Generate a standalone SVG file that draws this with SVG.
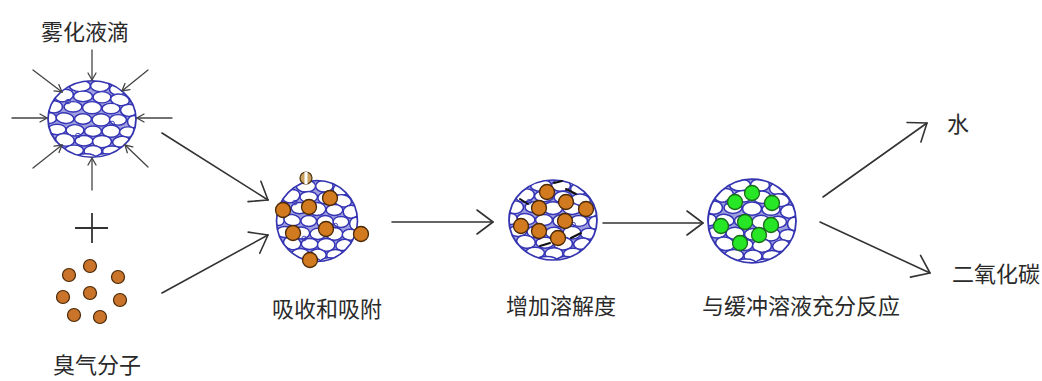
<svg xmlns="http://www.w3.org/2000/svg" xmlns:xlink="http://www.w3.org/1999/xlink" width="1042" height="381" viewBox="0 0 1042 381">
  <style>
    .lbl { font-family: "Noto Sans CJK SC", "Noto Sans", sans-serif; font-size: 22px; fill: #2a2a2a; text-anchor: middle; }
    .conn { fill: none; stroke: #333; stroke-width: 1.6; stroke-linecap: round; }
    .thin { fill: none; stroke: #444; stroke-width: 1.3; stroke-linecap: round; }
    .rim { fill: none; stroke: #3434b0; stroke-width: 1.8; }
    .cell { fill: #fff; stroke: #3535b5; stroke-width: 1.6; }
    .orange { fill: #d27a20; stroke: #4a2806; stroke-width: 1.3; }
    .green { fill: #26e626; stroke: #1b6a1b; stroke-width: 1.3; }
    .ozone { fill: #c9742a; stroke: #4a2806; stroke-width: 1.2; }
    .tad { fill: none; stroke: #111; stroke-width: 2; stroke-linecap: round; }
  </style>
  <defs>
    <marker id="head" markerUnits="userSpaceOnUse" markerWidth="40" markerHeight="40" refX="0" refY="0" viewBox="-20 -20 40 40" orient="auto">
      <path d="M-16,-12 L0,0 L-16,12" fill="none" stroke="#333" stroke-width="1.6" stroke-linecap="round" stroke-linejoin="round"/>
    </marker>
    <marker id="headS" markerUnits="userSpaceOnUse" markerWidth="20" markerHeight="20" refX="0" refY="0" viewBox="-10 -10 20 20" orient="auto">
      <path d="M-7,-4 L0,0 L-7,4" fill="none" stroke="#444" stroke-width="1.3" stroke-linecap="round"/>
    </marker>
    <clipPath id="unit">
      <circle cx="0" cy="0" r="44"/>
    </clipPath>
    <!-- foam texture of blue-edged cells, radius 44 around the origin -->
    <g id="foam">
      <rect x="-46" y="-46" width="92" height="92" fill="#a0a0e0"/>
      <ellipse class="cell" cx="-12" cy="-38" rx="10.5" ry="6.5"/>
      <ellipse class="cell" cx="8" cy="-38" rx="9.5" ry="6.5"/>
      <ellipse class="cell" cx="26" cy="-34" rx="8.5" ry="6.5"/>
      <ellipse class="cell" cx="-28" cy="-27" rx="9.5" ry="7" transform="rotate(-15 -28 -27)"/>
      <ellipse class="cell" cx="-9" cy="-26" rx="9.5" ry="6"/>
      <ellipse class="cell" cx="10" cy="-25" rx="9" ry="6.5"/>
      <ellipse class="cell" cx="28" cy="-22" rx="9.5" ry="6.5" transform="rotate(12 28 -22)"/>
      <ellipse class="cell" cx="-38" cy="-14" rx="8.5" ry="7"/>
      <ellipse class="cell" cx="-19" cy="-14" rx="9" ry="6"/>
      <ellipse class="cell" cx="0" cy="-13" rx="9.5" ry="7"/>
      <ellipse class="cell" cx="19" cy="-12" rx="9" ry="6"/>
      <ellipse class="cell" cx="37" cy="-10" rx="8.5" ry="7"/>
      <ellipse class="cell" cx="-42" cy="-1" rx="6.5" ry="6"/>
      <ellipse class="cell" cx="-27" cy="-1" rx="9" ry="6" transform="rotate(10 -27 -1)"/>
      <ellipse class="cell" cx="-9" cy="0" rx="8.5" ry="6"/>
      <ellipse class="cell" cx="9" cy="1" rx="9" ry="7"/>
      <ellipse class="cell" cx="26" cy="1" rx="8.5" ry="6"/>
      <ellipse class="cell" cx="42" cy="3" rx="6.5" ry="7"/>
      <ellipse class="cell" cx="-35" cy="12" rx="9" ry="6"/>
      <ellipse class="cell" cx="-17" cy="13" rx="9" ry="6.5"/>
      <ellipse class="cell" cx="1" cy="14" rx="8.5" ry="6"/>
      <ellipse class="cell" cx="19" cy="14" rx="9" ry="7"/>
      <ellipse class="cell" cx="36" cy="15" rx="8.5" ry="6"/>
      <ellipse class="cell" cx="-27" cy="24" rx="9.5" ry="7" transform="rotate(12 -27 24)"/>
      <ellipse class="cell" cx="-8" cy="25" rx="9" ry="6"/>
      <ellipse class="cell" cx="10" cy="26" rx="9.5" ry="7"/>
      <ellipse class="cell" cx="29" cy="26" rx="8.5" ry="6" transform="rotate(-12 29 26)"/>
      <ellipse class="cell" cx="-18" cy="36" rx="9.5" ry="6"/>
      <ellipse class="cell" cx="1" cy="37" rx="9" ry="6.5"/>
      <ellipse class="cell" cx="20" cy="37" rx="9.5" ry="6"/>
      <ellipse class="cell" cx="-6" cy="45" rx="10.5" ry="5"/>
      <ellipse class="cell" cx="13" cy="45" rx="9.5" ry="5"/>
      <circle cx="-24" cy="-20" r="2.5" fill="none" stroke="#3535b5" stroke-width="1"/>
      <circle cx="20" cy="5" r="2.5" fill="none" stroke="#3535b5" stroke-width="1"/>
      <circle cx="-14" cy="19" r="2.5" fill="none" stroke="#3535b5" stroke-width="1"/>
    </g>
  </defs>

  <rect width="1042" height="381" fill="#fff"/>

  <!-- atomized droplet -->
  <g id="droplet">
    <g transform="translate(92,119) scale(1,0.87)">
      <g clip-path="url(#unit)"><use xlink:href="#foam"/></g>
      <circle class="rim" cx="0" cy="0" r="44"/>
    </g>
    <g id="droplet-arrows">
      <line class="thin" x1="92" y1="50" x2="92" y2="80" marker-end="url(#headS)"/>
      <line class="thin" x1="92" y1="190" x2="92" y2="158" marker-end="url(#headS)"/>
      <line class="thin" x1="12" y1="118" x2="47" y2="118" marker-end="url(#headS)"/>
      <line class="thin" x1="172" y1="118" x2="137" y2="118" marker-end="url(#headS)"/>
      <line class="thin" x1="33" y1="70" x2="62" y2="92" marker-end="url(#headS)"/>
      <line class="thin" x1="148" y1="70" x2="122" y2="91" marker-end="url(#headS)"/>
      <line class="thin" x1="33" y1="168" x2="62" y2="145" marker-end="url(#headS)"/>
      <line class="thin" x1="148" y1="167" x2="125" y2="145" marker-end="url(#headS)"/>
    </g>
    <text class="lbl" x="85" y="40">雾化液滴</text>
  </g>

  <!-- plus sign -->
  <g id="plus">
    <path d="M75,228 H108 M92,213 V243" fill="none" stroke="#333" stroke-width="1.8"/>
  </g>

  <!-- ozone molecules -->
  <g id="ozone">
    <circle class="ozone" cx="90" cy="266" r="6.5"/>
    <circle class="ozone" cx="69" cy="275" r="6.5"/>
    <circle class="ozone" cx="118" cy="277" r="6.5"/>
    <circle class="ozone" cx="63" cy="297" r="6.5"/>
    <circle class="ozone" cx="90" cy="293" r="6.5"/>
    <circle class="ozone" cx="120" cy="300" r="6.5"/>
    <circle class="ozone" cx="74" cy="315" r="6.5"/>
    <circle class="ozone" cx="100" cy="317" r="6.5"/>
    <text class="lbl" x="97" y="373">臭气分子</text>
  </g>

  <!-- absorption and adsorption -->
  <g id="absorb">
    <g transform="translate(317,221) scale(0.92)">
      <g clip-path="url(#unit)"><use xlink:href="#foam"/></g>
      <circle class="rim" cx="0" cy="0" r="44"/>
    </g>
    <circle cx="306" cy="178" r="6" fill="#c9a060" stroke="#4a3410" stroke-width="1.2"/>
    <rect x="304.5" y="172" width="3" height="12" fill="#fff"/>
    <circle class="orange" cx="330" cy="198" r="7.5"/>
    <circle class="orange" cx="309" cy="207" r="7.5"/>
    <circle class="orange" cx="283" cy="210" r="7.5"/>
    <circle class="orange" cx="293" cy="233" r="7.5"/>
    <circle class="orange" cx="326" cy="229" r="7.5"/>
    <circle class="orange" cx="361" cy="234" r="7.5"/>
    <circle class="orange" cx="310" cy="260" r="7.5"/>
    <text class="lbl" x="327" y="317">吸收和吸附</text>
  </g>

  <!-- increased solubility -->
  <g id="dissolve">
    <g transform="translate(553,220) scale(1,0.91)">
      <g clip-path="url(#unit)"><use xlink:href="#foam"/></g>
      <circle class="rim" cx="0" cy="0" r="44"/>
    </g>
    <path class="tad" d="M566,189 L576,194"/>
    <path class="tad" d="M520,199 L528,204"/>
    <path class="tad" d="M571,238 L581,233"/>
    <path class="tad" d="M540,246 L550,243"/>
    <path class="tad" d="M554,183 L562,181"/>
    <circle class="orange" cx="547" cy="192" r="7.5"/>
    <circle class="orange" cx="566" cy="202" r="7.5"/>
    <circle class="orange" cx="539" cy="208" r="7.5"/>
    <circle class="orange" cx="586" cy="209" r="7.5"/>
    <circle class="orange" cx="565" cy="221" r="7.5"/>
    <circle class="orange" cx="521" cy="226" r="7.5"/>
    <circle class="orange" cx="539" cy="231" r="7.5"/>
    <circle class="orange" cx="558" cy="238" r="7.5"/>
    <text class="lbl" x="561" y="314">增加溶解度</text>
  </g>

  <!-- reaction with buffer solution -->
  <g id="react">
    <g transform="translate(752,221) scale(1,0.95)">
      <g clip-path="url(#unit)"><use xlink:href="#foam"/></g>
      <circle class="rim" cx="0" cy="0" r="44"/>
    </g>
    <circle class="green" cx="752" cy="193" r="7.5"/>
    <circle class="green" cx="735" cy="202" r="7.5"/>
    <circle class="green" cx="772" cy="203" r="7.5"/>
    <circle class="green" cx="721" cy="226" r="7.5"/>
    <circle class="green" cx="745" cy="222" r="7.5"/>
    <circle class="green" cx="771" cy="225" r="7.5"/>
    <circle class="green" cx="759" cy="235" r="7.5"/>
    <circle class="green" cx="740" cy="243" r="7.5"/>
    <text class="lbl" x="801" y="314">与缓冲溶液充分反应</text>
  </g>

  <!-- products -->
  <g id="water">
    <text class="lbl" x="958" y="132" font-size="21">水</text>
  </g>
  <g id="co2">
    <text class="lbl" x="996" y="282">二氧化碳</text>
  </g>

  <!-- connectors -->
  <g id="connectors">
    <line class="conn" x1="162" y1="133" x2="268" y2="200" marker-end="url(#head)"/>
    <line class="conn" x1="162" y1="293" x2="268" y2="235" marker-end="url(#head)"/>
    <line class="conn" x1="392" y1="222" x2="493" y2="222" marker-end="url(#head)"/>
    <line class="conn" x1="603" y1="223" x2="703" y2="223" marker-end="url(#head)"/>
    <line class="conn" x1="823" y1="197" x2="927" y2="123" marker-end="url(#head)"/>
    <line class="conn" x1="820" y1="222" x2="930" y2="273" marker-end="url(#head)"/>
  </g>
</svg>
